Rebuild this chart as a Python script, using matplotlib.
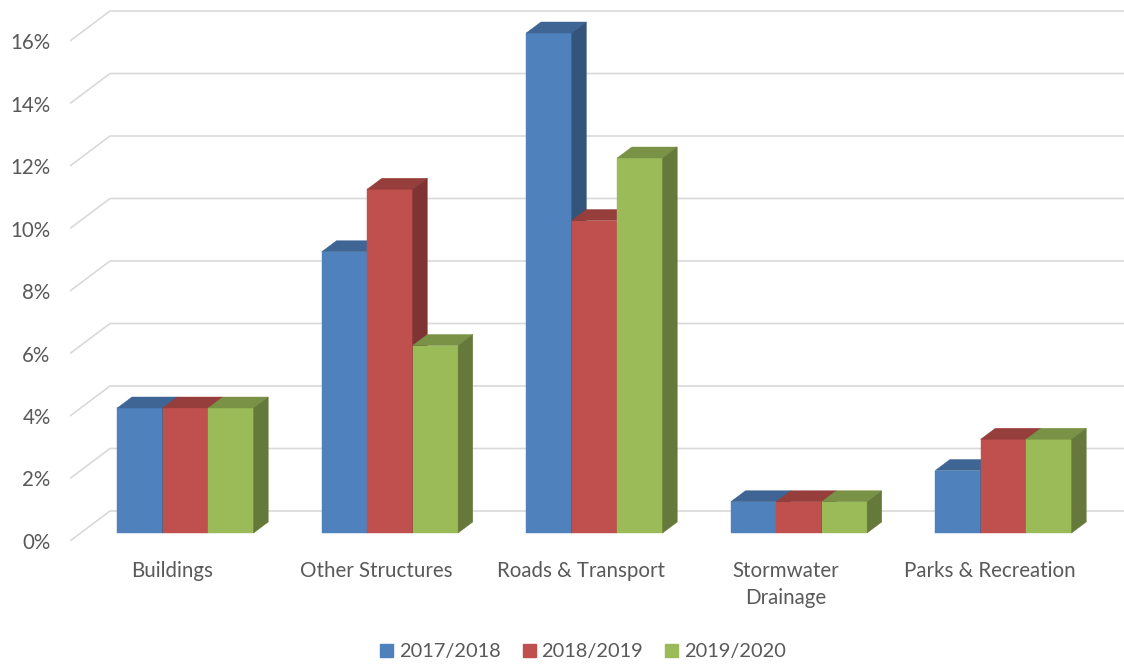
import numpy as np
import matplotlib
matplotlib.use("Agg")
import matplotlib.pyplot as plt
from matplotlib.patches import Polygon, Patch
from matplotlib.colors import to_rgb

# ---- data ----
categories = ["Buildings", "Other Structures", "Roads & Transport",
              "Stormwater\nDrainage", "Parks & Recreation"]
series_names = ["2017/2018", "2018/2019", "2019/2020"]
v_2017 = [4, 9, 16, 1, 2]
v_2018 = [4, 11, 10, 1, 3]
v_2019 = [4, 6, 12, 1, 3]
values = [v_2017, v_2018, v_2019]
yticks = [0, 2, 4, 6, 8, 10, 12, 14, 16]

colors = ["#4F81BD", "#C0504D", "#9BBB59"]
text_color = "#595959"
grid_color = "#D9D9D9"

plt.rcParams['font.family'] = ['Lato', 'DejaVu Sans']

W, H = 1124, 665
fig = plt.figure(figsize=(W / 100, H / 100), dpi=100)

# axes: left edge = floor left at front plane, bottom = 0% at front plane
px_left, px_base = 70, 541
px_per_cat, px_per_pct = 204.5, 31.25
ax = fig.add_axes([px_left / W, (H - px_base) / H, (W - px_left) / W, px_base / H])
ax.set_xlim(-0.5, -0.5 + (W - px_left) / px_per_cat)
ax.set_ylim(0, px_base / px_per_pct)

# oblique depth projection (z=0 front plane, z=1 back wall)
DX = 40 / px_per_cat
DY = 30 / px_per_pct


def proj(x, y, z):
    return (x + DX * z, y + DY * z)


# gridlines: diagonal on side + back wall
x_floor_left = -0.5
x_far_right = 4.5 + 1.0
for t in yticks:
    p0 = proj(x_floor_left, t, 0)
    p1 = proj(x_floor_left, t, 1)
    p2 = proj(x_far_right, t, 1)
    ax.plot([p0[0], p1[0], p2[0]], [p0[1], p1[1], p2[1]], color=grid_color,
            lw=1.2, zorder=1, solid_capstyle='butt', clip_on=True)


def shade(c, f):
    r, g, b = to_rgb(c)
    return (r * f, g * f, b * f)


n = len(series_names)
bar_w = 1.0 / (n + 1.5)
bar_shift = 2.5 / px_per_cat
z_front, z_back = 8 / 30, 19 / 30
zo = 3
for ci in range(len(categories)):
    for si in range(n):
        v = values[si][ci]
        c = colors[si]
        xl = ci - n * bar_w / 2 + si * bar_w + bar_shift
        xr = xl + bar_w
        fx0, fy0 = proj(xl, 0, z_front)
        fx1, _ = proj(xr, 0, z_front)
        # front face
        ax.bar(fx0, v, width=fx1 - fx0, bottom=fy0, align='edge', color=c,
               edgecolor=c, linewidth=0.3, zorder=zo)
        # top face
        top = [proj(xl, v, z_front), proj(xr, v, z_front),
               proj(xr, v, z_back), proj(xl, v, z_back)]
        ax.add_patch(Polygon(top, closed=True, facecolor=shade(c, 0.78),
                             edgecolor=shade(c, 0.78), lw=0.3, zorder=zo))
        # side face
        side = [proj(xr, 0, z_front), proj(xr, 0, z_back),
                proj(xr, v, z_back), proj(xr, v, z_front)]
        ax.add_patch(Polygon(side, closed=True, facecolor=shade(c, 0.65),
                             edgecolor=shade(c, 0.65), lw=0.3, zorder=zo))
        zo += 1

# axes styling
for s in ax.spines.values():
    s.set_visible(False)
ax.set_yticks(yticks, labels=[f"{t}%" for t in yticks])
ax.set_xticks(range(len(categories)), labels=categories)
ax.tick_params(axis='both', length=0, labelsize=14.8, labelcolor=text_color)
ax.tick_params(axis='y', pad=14)
ax.tick_params(axis='x', pad=14.5)
for lab in ax.get_xticklabels():
    lab.set_linespacing(1.45)
ax.set_facecolor('none')

handles = [Patch(facecolor=c, edgecolor=c) for c in colors]
fig.legend(handles, series_names, loc='center', bbox_to_anchor=(583 / W, 13 / H),
           ncol=3, frameon=False, fontsize=14.4, labelcolor=text_color,
           handlelength=0.65, handleheight=0.65, handletextpad=0.3,
           columnspacing=1.1)

fig.savefig("out.png", dpi=100, facecolor='white')
